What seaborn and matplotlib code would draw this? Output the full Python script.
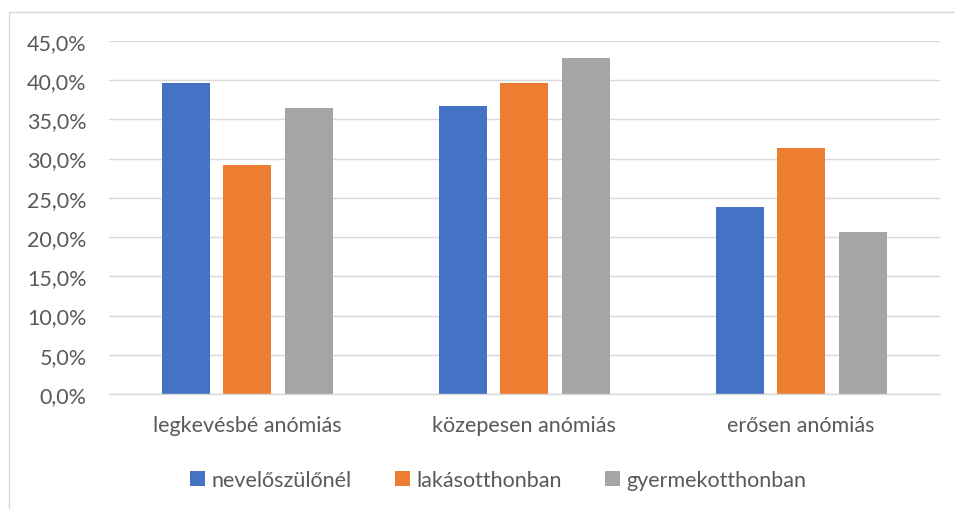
import matplotlib
matplotlib.use("Agg")
import matplotlib.pyplot as plt
from matplotlib.ticker import FuncFormatter, MultipleLocator
from matplotlib.patches import Rectangle
import seaborn as sns
import pandas as pd

categories = ["legkevésbé anómiás", "közepesen anómiás", "erősen anómiás"]
series = ["nevelőszülőnél", "lakásotthonban", "gyermekotthonban"]
nevelo = [39.6, 36.7, 23.8]
lakas = [29.2, 39.6, 31.3]
gyermek = [36.5, 42.8, 20.6]
colors = ["#4472C4", "#ED7D31", "#A5A5A5"]

rows = []
for s, vals in zip(series, [nevelo, lakas, gyermek]):
    for c, v in zip(categories, vals):
        rows.append({"kategoria": c, "csoport": s, "ertek": v})
df = pd.DataFrame(rows)

sns.set_theme(style="white")
plt.rcParams["font.family"] = ["Lato", "DejaVu Sans"]
FS = 15.5

fig = plt.figure(figsize=(9.55, 5.10), dpi=100)
ax = fig.add_axes([0.114, 0.2255, 0.870, 0.6925])

sns.barplot(data=df, x="kategoria", y="ertek", hue="csoport",
            order=categories, hue_order=series, palette=colors,
            width=0.666, gap=0.22, saturation=1, errorbar=None, ax=ax,
            edgecolor="none")

ax.set_ylim(0, 45)
ax.yaxis.set_major_locator(MultipleLocator(5))
ax.yaxis.set_major_formatter(FuncFormatter(lambda v, p: f"{v:.1f}%".replace(".", ",")))
ax.grid(axis="y", color="#D9D9D9", linewidth=1.0)
ax.set_axisbelow(True)
for side in ["top", "right", "left"]:
    ax.spines[side].set_visible(False)
ax.spines["bottom"].set_color("#D9D9D9")
ax.spines["bottom"].set_linewidth(1.0)
ax.set_xlabel("")
ax.set_ylabel("")
ax.tick_params(axis="y", length=0, pad=16, labelsize=FS, labelcolor="#595959")
ax.tick_params(axis="x", length=0, pad=15, labelsize=FS, labelcolor="#595959")

handles, labels = ax.get_legend_handles_labels()
ax.legend_.remove()
fig.legend(handles, labels, loc="center", bbox_to_anchor=(498 / 955, 1 - 481 / 510),
           ncol=3, frameon=False, fontsize=FS, labelcolor="#595959",
           handlelength=0.7, handleheight=0.7, handletextpad=0.3,
           columnspacing=2.0)

# light outer frame of the chart area
fig.patches.append(Rectangle((9 / 955, -0.05), 1.1, 1 - 13 / 510 + 0.05,
                             transform=fig.transFigure, fill=False,
                             edgecolor="#D9D9D9", linewidth=1.0))

fig.savefig("out.png", dpi=100)
